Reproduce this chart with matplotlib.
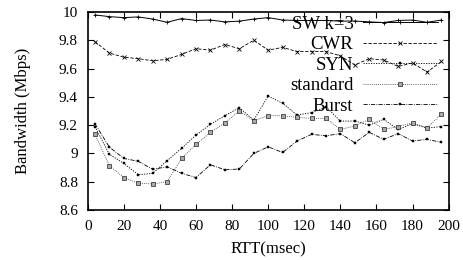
import matplotlib
matplotlib.use("Agg")
import matplotlib.pyplot as plt
from matplotlib.ticker import FuncFormatter

plt.rcParams["font.family"] = ["Liberation Serif", "DejaVu Serif"]

# RTT sample points (msec)
rtt = [4, 12, 20, 28, 36, 44, 52, 60, 68, 76, 84, 92, 100,
       108, 116, 124, 132, 140, 148, 156, 164, 172, 180, 188, 196]

# bandwidth (Mbps)
sw_k3 = [9.979, 9.967, 9.960, 9.965, 9.950, 9.927, 9.953, 9.940, 9.943, 9.930,
         9.935, 9.950, 9.960, 9.943, 9.940, 9.940, 9.940, 9.935, 9.936, 9.930,
         9.925, 9.940, 9.943, 9.927, 9.943]
cwr = [9.79, 9.71, 9.68, 9.67, 9.655, 9.665, 9.70, 9.74, 9.73, 9.77,
       9.74, 9.80, 9.73, 9.75, 9.72, 9.72, 9.72, 9.69, 9.625, 9.67,
       9.66, 9.615, 9.64, 9.575, 9.65]
syn = [9.19, 8.994, 8.93, 8.85, 8.859, 8.95, 9.036, 9.13, 9.206, 9.267,
       9.323, 9.236, 9.406, 9.354, 9.272, 9.288, 9.33, 9.229, 9.229, 9.20,
       9.241, 9.17, 9.21, 9.18, 9.19]
standard = [9.137, 8.913, 8.83, 8.79, 8.785, 8.80, 8.965, 9.064, 9.149, 9.217,
            9.30, 9.231, 9.267, 9.267, 9.255, 9.248, 9.248, 9.17, 9.194, 9.241,
            9.17, 9.19, 9.217, 9.18, 9.279]
burst = [9.21, 9.045, 8.965, 8.945, 8.888, 8.906, 8.86, 8.83, 8.92, 8.885,
         8.89, 9.0, 9.047, 9.007, 9.088, 9.135, 9.125, 9.14, 9.076, 9.149,
         9.10, 9.14, 9.088, 9.10, 9.078]

fig = plt.figure(figsize=(4.64, 2.6), dpi=100)
ax = fig.add_axes([0.189, 0.192, 0.778, 0.762])

lw = 0.6
ax.plot(rtt, sw_k3, color="black", lw=0.7, ls="-", marker="+", ms=3.5, mew=0.6,
        label="SW k=3")
ax.plot(rtt, cwr, color="black", lw=lw, ls=(0, (4, 2)), marker="x", ms=2.2,
        mew=0.6, label="CWR")
ax.plot(rtt, syn, color="black", lw=lw, ls=(0, (1.5, 1.5)), marker="s", ms=1.8,
        mew=0.3, label="SYN")
ax.plot(rtt, standard, color="#333333", lw=lw, ls=(0, (1, 1.5)), marker="s",
        ms=2.6, mfc="#aaaaaa", mec="#222222", mew=0.5, label="standard")
ax.plot(rtt, burst, color="black", lw=lw, ls=(0, (5, 1.5, 1, 1.5)), marker="s",
        ms=2.0, mew=0.3, label="Burst")

ax.set_xlim(0, 200)
ax.set_ylim(8.6, 10.0)
ax.set_xticks(range(0, 201, 20))
ax.set_yticks([8.6, 8.8, 9.0, 9.2, 9.4, 9.6, 9.8, 10.0])
ax.yaxis.set_major_formatter(FuncFormatter(lambda v, p: f"{v:g}"))
ax.tick_params(direction="in", top=True, right=True, length=4, width=0.8,
               labelsize=11)
ax.tick_params(axis="x", pad=7)
ax.tick_params(axis="y", pad=7)
for s in ax.spines.values():
    s.set_linewidth(1.2)

ax.set_xlabel("RTT(msec)", fontsize=12, labelpad=6)
ax.set_ylabel("Bandwidth (Mbps)", fontsize=12, labelpad=20)

ax.legend(loc="upper right", bbox_to_anchor=(0.975, 0.99), frameon=False,
          markerfirst=False, fontsize=13.5, handlelength=4.0,
          handletextpad=0.5, labelspacing=0.18, borderaxespad=0.1,
          borderpad=0.0)

fig.savefig("out.png", dpi=100)
